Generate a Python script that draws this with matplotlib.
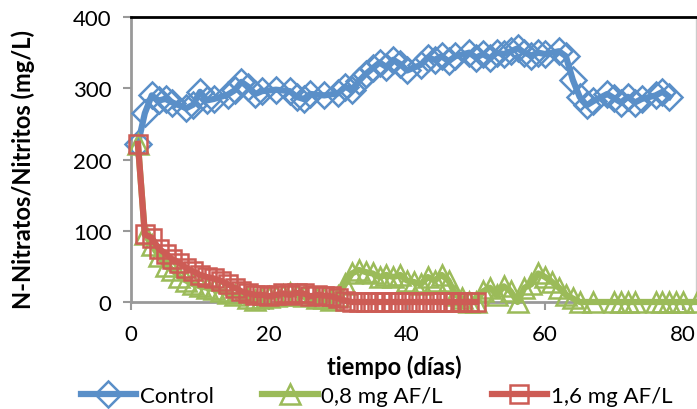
import matplotlib.pyplot as plt

plt.rcParams['font.family'] = ['Lato', 'DejaVu Sans']

# Control
dias_control = [1, 2, 3, 4, 5, 6, 8, 9, 10, 11, 12, 14, 15, 16, 17, 18, 19, 21,
                23, 24, 25, 26, 28, 30, 31, 32, 33, 34, 35, 36, 37, 38, 39, 40,
                42, 43, 44, 45, 46, 47, 49, 50, 51, 52, 53, 54, 55, 56, 57, 58,
                59, 60, 62, 63, 64, 65, 66, 67, 69, 70, 71, 72, 73, 74, 76, 77, 78]
control = [222, 265, 290, 283, 285, 280, 272, 277, 295, 283, 285, 291, 297, 309,
           302, 292, 296, 298, 296, 288, 285, 292, 290, 293, 302, 298, 310, 320,
           328, 336, 330, 340, 334, 325, 333, 343, 340, 345, 338, 345, 350, 343,
           348, 342, 350, 348, 352, 356, 350, 346, 350, 348, 352, 345, 312, 288,
           276, 282, 292, 286, 280, 288, 280, 285, 290, 295, 288]

# 0,8 mg AF/L
dias_08 = [1, 2, 3, 4, 5, 6, 7, 8, 9, 10, 11, 12, 13, 14, 15, 17, 18, 19, 20,
           21, 22, 23, 24, 25, 27, 28, 29, 30, 31, 32, 33, 34, 35, 36, 37, 38,
           39, 40, 41, 42, 43, 44, 45, 46, 47, 48, 49, 50, 51, 52, 53, 54, 55,
           56, 57, 58, 59, 60, 61, 62, 63, 64, 65, 67, 70, 71, 72, 73, 76, 77,
           78, 79, 80, 82]
af_08 = [222, 95, 80, 65, 50, 45, 35, 30, 25, 22, 20, 18, 15, 12, 10, 5, 3, 5,
         7, 8, 10, 12, 10, 8, 5, 5, 3, 8, 25, 40, 45, 42, 40, 35, 38, 35, 38,
         30, 28, 25, 35, 30, 38, 30, 10, 5, 0, 0, 15, 20, 10, 22, 15, 0, 20, 25,
         40, 35, 28, 20, 10, 5, 0, 0, 0, 0, 0, 0, 0, 0, 0, 0, 0, 0]

# 1,6 mg AF/L
dias_16 = list(range(1, 51))
af_16 = [222, 95, 90, 75, 68, 60, 55, 48, 43, 38, 35, 33, 30, 25, 20, 15, 12,
         10, 10, 8, 10, 12, 10, 13, 12, 8, 10, 9, 8, 5, 2, 0, 0, 0, 0, 0, 0, 0,
         0, 0, 0, 0, 0, 0, 0, 0, 0, 0, 0, 0]

azul = '#5A8FC8'
verde = '#9BBB59'
rojo = '#CD5C55'

fig = plt.figure(figsize=(6.97, 4.10), dpi=100)
ax = fig.add_axes([0.188, 0.261, 0.811, 0.695])

ax.plot(dias_control, control, color=azul, lw=4.5, marker='D', ms=13,
        mfc='none', mew=1.8, label='Control', clip_on=False, zorder=3)
ax.plot(dias_08, af_08, color=verde, lw=4.5, marker='^', ms=14,
        mfc='none', mew=1.8, label='0,8 mg AF/L', clip_on=False, zorder=4)
ax.plot(dias_16, af_16, color=rojo, lw=4.5, marker='s', ms=13,
        mfc='none', mew=1.8, label='1,6 mg AF/L', clip_on=False, zorder=5)

ax.set_xlim(0, 81.9)
ax.set_ylim(0, 400)
ax.set_xticks([0, 20, 40, 60, 80])
ax.set_yticks([0, 100, 200, 300, 400])
ax.tick_params(labelsize=16, color='#999999', width=1.5, length=6)
ax.tick_params(axis='x', pad=10)
ax.tick_params(axis='y', pad=8)

for lado in ['left', 'bottom']:
    ax.spines[lado].set_color('#999999')
    ax.spines[lado].set_linewidth(2)
ax.spines['right'].set_color('#cccccc')
ax.spines['right'].set_linewidth(1)
ax.spines['top'].set_color('black')
ax.spines['top'].set_linewidth(2)

ax.set_xlabel('tiempo (días)', fontsize=17, fontweight='bold')
ax.set_ylabel('N-Nitratos/Nitritos (mg/L)', fontsize=17, fontweight='bold')
ax.xaxis.set_label_coords(0.465, -0.185)
ax.yaxis.set_label_coords(-0.17, 0.47)

fig.legend(loc='center', bbox_to_anchor=(0.54, 0.032), ncol=3, frameon=False,
           fontsize=16, handlelength=2.5, numpoints=1, columnspacing=2.2,
           handletextpad=0.15, borderpad=0)

fig.savefig('out.png', dpi=100)
